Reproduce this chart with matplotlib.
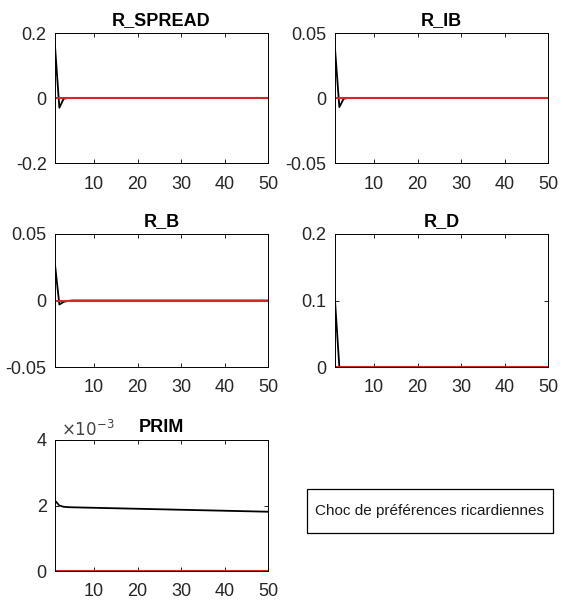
import numpy as np
import matplotlib.pyplot as plt
from matplotlib.patches import Rectangle

plt.rcParams['font.family'] = ['Liberation Sans', 'DejaVu Sans']

periods = np.arange(1, 51)

r_spread = [0.16, -0.03, -0.002] + [0.0] * 47
r_ib = [0.038, -0.007, -0.0005] + [0.0] * 47
r_b = [0.027, -0.003, -0.001, -0.0003] + [0.0] * 46
r_d = [0.1] + [0.0] * 49
prim = [2.15, 2.00, 1.96, 1.95, 1.945, 1.942, 1.939, 1.936, 1.933, 1.930,
        1.927, 1.924, 1.921, 1.918, 1.915, 1.912, 1.909, 1.906, 1.903, 1.900,
        1.897, 1.894, 1.891, 1.888, 1.885, 1.882, 1.879, 1.876, 1.873, 1.870,
        1.867, 1.864, 1.861, 1.858, 1.855, 1.852, 1.849, 1.846, 1.843, 1.840,
        1.837, 1.834, 1.831, 1.828, 1.825, 1.822, 1.819, 1.816, 1.813, 1.810]
steady = [0.0] * 50

panels = [
    ('R_SPREAD', r_spread, (-0.2, 0.2), [-0.2, 0, 0.2], ['-0.2', '0', '0.2']),
    ('R_IB', r_ib, (-0.05, 0.05), [-0.05, 0, 0.05], ['-0.05', '0', '0.05']),
    ('R_B', r_b, (-0.05, 0.05), [-0.05, 0, 0.05], ['-0.05', '0', '0.05']),
    ('R_D', r_d, (0, 0.2), [0, 0.1, 0.2], ['0', '0.1', '0.2']),
    ('PRIM', [v * 1e-3 for v in prim], (0, 0.004), [0, 0.002, 0.004], ['0', '2', '4']),
]

W, H = 563, 605
fig = plt.figure(figsize=(W / 100, H / 100), dpi=100)

# pixel boxes (left, top, right, bottom)
boxes = [(55, 33, 268, 163), (335, 33, 548, 163),
         (55, 234, 268, 367), (335, 234, 548, 367),
         (55, 440, 268, 571)]

for (title, y, ylim, yt, ytl), (l, t, r, b) in zip(panels, boxes):
    ax = fig.add_axes([l / W, 1 - b / H, (r - l) / W, (b - t) / H])
    ax.plot(periods, y, color='black', lw=1.3)
    ax.plot(periods, steady, color='#d62728', lw=1.5)
    ax.set_xlim(1, 50)
    ax.set_ylim(*ylim)
    ax.set_xticks([10, 20, 30, 40, 50])
    ax.set_yticks(yt)
    ax.set_yticklabels(ytl)
    ax.tick_params(direction='in', top=True, right=True, labelsize=13, length=3,
                   width=0.6, labelcolor='#262626')
    ax.tick_params(axis='x', pad=9)
    ax.tick_params(axis='y', pad=6)
    for s in ax.spines.values():
        s.set_linewidth(0.7)
    ax.set_title(title, fontsize=13, fontweight='bold', pad=6)
    if title == 'PRIM':
        ax.text(0.03, 1.01, r'$\times10^{-3}$', transform=ax.transAxes,
                fontsize=12, ha='left', va='bottom', color='#444444')

# annotation box
bx0, by0, bx1, by1 = 307, 489, 553, 533
fig.add_artist(Rectangle((bx0 / W, 1 - by1 / H), (bx1 - bx0) / W, (by1 - by0) / H,
                         transform=fig.transFigure, facecolor='white',
                         edgecolor='black', lw=0.9))
fig.text((bx0 + bx1) / 2 / W, 1 - (by0 + by1) / 2 / H, 'Choc de préférences ricardiennes',
         fontsize=11, ha='center', va='center', color='#1a1a1a')

fig.savefig('out.png', dpi=100)
